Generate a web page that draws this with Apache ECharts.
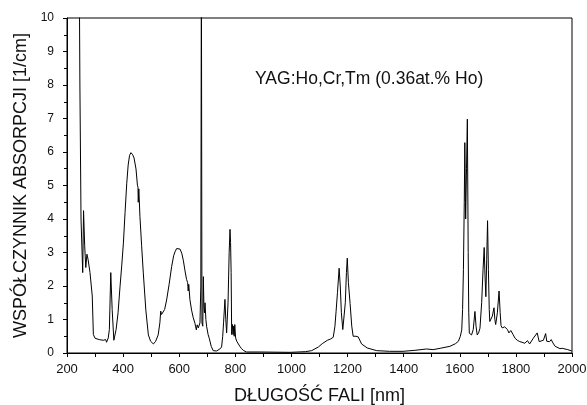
<!DOCTYPE html>
<html>
<head>
<meta charset="utf-8">
<script src="https://cdn.jsdelivr.net/npm/echarts@6/dist/echarts.min.js"></script>
<style>
  html, body { margin: 0; padding: 0; background: #fff; }
  #chart { width: 587px; height: 405px; }
</style>
</head>
<body>
<div id="chart"></div>
<script>
// dlugosc fali [nm]
let wavelength = [
  242, 246, 250, 256, 259, 263, 267, 271, 275, 282, 290, 294, 300, 315, 329, 335, 338, 341, 347, 351,
  356, 361, 367, 375, 382, 389, 395, 401, 407, 413, 418, 423, 428, 434, 439, 446, 451, 453, 454, 456,
  460, 466, 472, 481, 490, 498, 508, 516, 525, 531, 534, 537, 541, 548, 555, 564, 573, 580, 585, 591,
  597, 603, 609, 615, 620, 626, 630, 632, 634, 638, 644, 650, 656, 661, 664, 668, 674, 677, 679, 681,
  684, 686, 688, 690, 692, 695, 698, 703, 707, 714, 721, 733, 745, 751, 755, 758, 763, 766, 769, 774,
  778, 781, 783, 785, 787, 790, 792, 794, 796, 798, 801, 805, 810, 816, 822, 830, 840, 888, 995, 1050,
  1072, 1096, 1110, 1128, 1140, 1149, 1155, 1159, 1164, 1170, 1174, 1178, 1183, 1188, 1192, 1196, 1199, 1203, 1209, 1215,
  1220, 1230, 1238, 1250, 1270, 1304, 1350, 1398, 1440, 1482, 1505, 1530, 1565, 1585, 1595, 1602, 1607, 1610, 1613, 1616,
  1618, 1621, 1624, 1627, 1630, 1632, 1634, 1642, 1648, 1654, 1658, 1662, 1667, 1672, 1678, 1683, 1687, 1690, 1693, 1696,
  1699, 1702, 1705, 1707, 1712, 1716, 1722, 1725, 1728, 1734, 1740, 1744, 1747, 1751, 1755, 1760, 1764, 1770, 1775, 1782,
  1790, 1797, 1805, 1814, 1822, 1832, 1841, 1849, 1855, 1862, 1868, 1876, 1880, 1883, 1890, 1898, 1906, 1910, 1915, 1920,
  1926, 1932, 1940, 1945, 1957, 1965, 1975, 1985, 1999
];
// wspolczynnik absorpcji [1/cm]
let absorption = [
  14, 8, 4, 2.4, 4.25, 3.2, 2.55, 2.95, 2.8, 2.4, 1.7, 0.55, 0.44, 0.4, 0.38, 0.35, 0.4, 0.32, 0.45, 0.7,
  2.4, 1.3, 0.38, 0.7, 1.2, 1.98, 2.6, 3.28, 4.2, 5.07, 5.61, 5.9, 5.98, 5.92, 5.82, 5.49, 5.01, 4.95, 4.5, 4.9,
  4.07, 3.2, 2.39, 1.28, 0.54, 0.35, 0.27, 0.35, 0.54, 0.9, 1.25, 1.15, 1.1, 1.3, 1.58, 2.05, 2.58, 2.9, 3.02, 3.12,
  3.15, 3.1, 2.98, 2.75, 2.48, 2.2, 2.1, 1.85, 2.05, 1.6, 1.28, 1.05, 0.89, 0.69, 0.84, 0.75, 0.9, 2, 12, 0.9,
  0.8, 2.28, 1.4, 1.2, 1.5, 1.0, 0.78, 0.55, 0.44, 0.2, 0.07, 0.06, 0.12, 0.18, 0.5, 0.9, 1.6, 1.0, 0.6, 1.5,
  3.0, 3.69, 3.3, 2.4, 0.55, 0.85, 0.55, 0.8, 0.5, 0.85, 0.45, 0.35, 0.3, 0.2, 0.13, 0.07, 0.03, 0.03, 0.02, 0.04,
  0.07, 0.18, 0.28, 0.38, 0.42, 0.47, 0.8, 1.23, 1.8, 2.53, 2.0, 1.2, 0.7, 0.69, 1.5, 2.4, 2.83, 2.1, 1.48, 0.8,
  0.5, 0.5, 0.48, 0.27, 0.15, 0.07, 0.05, 0.05, 0.08, 0.12, 0.1, 0.14, 0.2, 0.28, 0.35, 0.5, 0.69, 1.3, 2.5, 4.5,
  6.28, 4.0, 5.5, 6.98, 3.0, 1.2, 0.59, 0.54, 0.7, 1.24, 0.8, 0.54, 0.6, 0.74, 1.5, 2.5, 3.15, 2.3, 1.68, 2.8,
  3.95, 2.5, 1.3, 0.94, 0.9, 1.1, 1.35, 1.0, 0.85, 1.2, 1.85, 1.2, 0.82, 0.75, 0.7, 0.78, 0.8, 0.7, 0.6, 0.67,
  0.55, 0.44, 0.38, 0.34, 0.32, 0.29, 0.37, 0.27, 0.3, 0.44, 0.4, 0.6, 0.45, 0.34, 0.35, 0.38, 0.58, 0.35, 0.3, 0.34,
  0.4, 0.3, 0.2, 0.16, 0.13, 0.14, 0.12, 0.1, 0.06
];
let sampleLabel = "YAG:Ho,Cr,Tm (0.36at.% Ho)";
let xTitle = "DŁUGOŚĆ FALI [nm]";
let yTitle = "WSPÓŁCZYNNIK ABSORPCJI [1/cm]";

let font = "Liberation Sans, Arial, sans-serif";
let myEcharts = echarts.init(document.getElementById("chart"));

//zamiana na pary [x, y]
function getData() {
    let d = [];
    wavelength.forEach(function (val, i) {
        d.push([val, absorption[i]]);
    });
    return d;
}

let option = {
    animation: false,
    grid: {
        left: 67, right: 15, top: 18, bottom: 52,
        outerBoundsMode: "none",
        containLabel: false,
        show: true, borderColor: "#000", borderWidth: 1
    },
    graphic: [{
        type: "text",
        left: 255, top: 70,
        style: { text: sampleLabel, fontFamily: font, fontSize: 17.5, fill: "#111" }
    }],
    xAxis: {
        type: "value",
        min: 200, max: 2000, interval: 200,
        name: xTitle,
        nameLocation: "middle",
        nameGap: 34,
        nameTextStyle: { fontFamily: font, fontSize: 18, color: "#111" },
        axisLine: { lineStyle: { color: "#000" } },
        axisTick: { show: true, inside: false, length: 4, lineStyle: { color: "#000" } },
        minorTick: { show: true, splitNumber: 2, length: 4, lineStyle: { color: "#000" } },
        axisLabel: {
            fontFamily: font, fontSize: 13, color: "#111", margin: 10,
            formatter: function (v) { return String(v); }
        },
        splitLine: { show: false }
    },
    yAxis: {
        type: "value",
        min: 0, max: 10, interval: 1,
        name: yTitle,
        nameLocation: "middle",
        nameGap: 32,
        nameTextStyle: { fontFamily: font, fontSize: 18, color: "#111" },
        axisLine: { show: true, lineStyle: { color: "#000" } },
        axisTick: { show: true, inside: false, length: 4, lineStyle: { color: "#000" } },
        minorTick: { show: true, splitNumber: 2, length: 3, lineStyle: { color: "#000" } },
        axisLabel: { fontFamily: font, fontSize: 12, color: "#111", margin: 13 },
        splitLine: { show: false }
    },
    series: [{
        type: "line",
        data: getData(),
        showSymbol: false,
        symbol: "none",
        clip: true,
        lineStyle: { color: "#000", width: 1 }
    }]
};
myEcharts.setOption(option);
</script>
</body>
</html>
